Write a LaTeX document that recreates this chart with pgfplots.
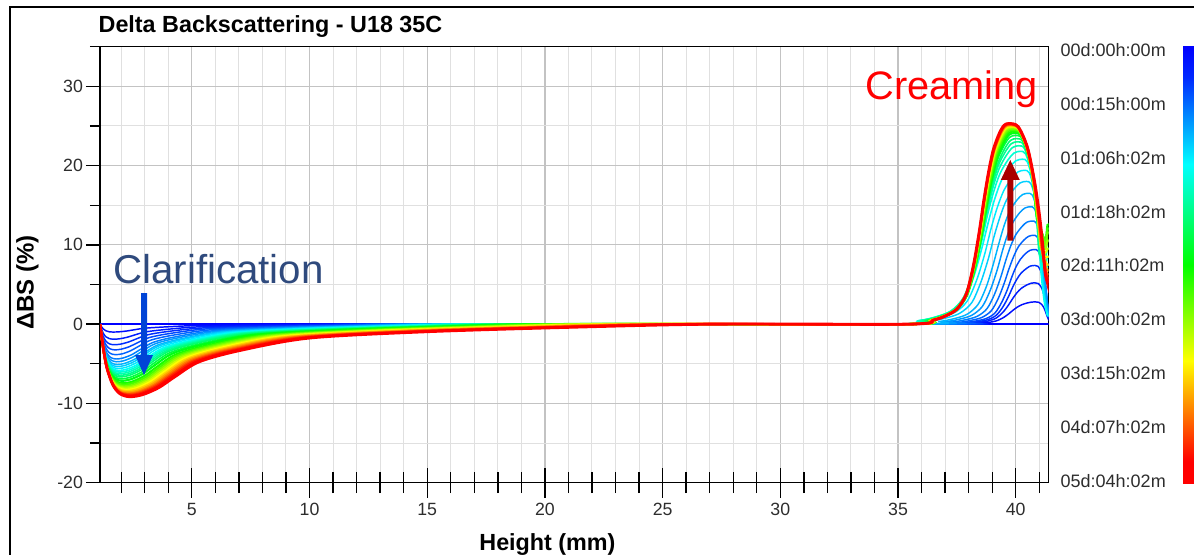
\documentclass[border=0pt]{standalone}
\usepackage{fontspec}
\setmainfont{Liberation Sans}
\usepackage{pgfplots}
\pgfplotsset{compat=1.18}
\definecolor{c0}{RGB}{0,0,255}
\definecolor{c1}{RGB}{0,14,255}
\definecolor{c2}{RGB}{0,29,255}
\definecolor{c3}{RGB}{0,45,255}
\definecolor{c4}{RGB}{0,72,255}
\definecolor{c5}{RGB}{0,99,255}
\definecolor{c6}{RGB}{0,126,255}
\definecolor{c7}{RGB}{0,153,255}
\definecolor{c8}{RGB}{0,180,255}
\definecolor{c9}{RGB}{0,207,255}
\definecolor{c10}{RGB}{0,234,255}
\definecolor{c11}{RGB}{0,255,244}
\definecolor{c12}{RGB}{0,255,211}
\definecolor{c13}{RGB}{0,255,177}
\definecolor{c14}{RGB}{0,255,144}
\definecolor{c15}{RGB}{0,255,111}
\definecolor{c16}{RGB}{0,255,67}
\definecolor{c17}{RGB}{0,255,22}
\definecolor{c18}{RGB}{23,255,0}
\definecolor{c19}{RGB}{70,255,0}
\definecolor{c20}{RGB}{116,255,0}
\definecolor{c21}{RGB}{162,255,0}
\definecolor{c22}{RGB}{209,255,0}
\definecolor{c23}{RGB}{255,255,0}
\definecolor{c24}{RGB}{255,211,0}
\definecolor{c25}{RGB}{255,166,0}
\definecolor{c26}{RGB}{255,122,0}
\definecolor{c27}{RGB}{255,78,0}
\definecolor{c28}{RGB}{255,33,0}
\definecolor{c29}{RGB}{255,0,0}
\definecolor{c30}{RGB}{255,0,0}
\definecolor{navytext}{RGB}{47,74,125}
\definecolor{arrowblue}{RGB}{0,68,214}
\definecolor{arrowred}{RGB}{170,0,0}
\definecolor{gridmaj}{RGB}{195,195,195}
\definecolor{gridmin}{RGB}{224,224,224}
\definecolor{tickgray}{RGB}{45,45,45}
\definecolor{cbb}{RGB}{0,0,255}
\definecolor{cbb2}{RGB}{0,40,255}
\definecolor{cbc}{RGB}{0,255,255}
\definecolor{cbg}{RGB}{0,255,0}
\definecolor{cby}{RGB}{255,255,0}
\definecolor{cbr}{RGB}{255,0,0}
\pgfdeclareverticalshading{jetbar}{100bp}{color(0bp)=(cbr); color(25bp)=(cbr); color(27.5bp)=(cbr); color(39bp)=(cby); color(50bp)=(cbg); color(61.5bp)=(cbc); color(71.5bp)=(cbb2); color(75bp)=(cbb); color(100bp)=(cbb)}
\begin{document}
\begin{tikzpicture}
\path[use as bounding box] (0,0) rectangle (895.5pt,415.5pt);
\begin{axis}[
  at={(75pt,53.5pt)}, anchor=south west,
  scale only axis, width=711.5pt, height=327pt,
  xmin=1.1, xmax=41.4, ymin=-20, ymax=35,
  xtick={5,10,...,40},
  minor xtick={2,3,4,6,7,8,9,11,12,13,14,16,17,18,19,21,22,23,24,26,27,28,29,31,32,33,34,36,37,38,39,41},
  ytick={-20,-10,...,30},
  minor ytick={-15,-5,5,15,25,35},
  grid=both,
  major grid style={draw=gridmaj, line width=0.9pt},
  minor grid style={draw=gridmin, line width=0.75pt},
  tick pos=left,
  xtick align=center, ytick align=outside,
  xtick style={black, line width=1pt, /pgfplots/major tick length=22.5pt, /pgfplots/minor tick length=15.75pt},
  ytick style={black, line width=1pt, /pgfplots/major tick length=10.5pt, /pgfplots/minor tick length=7.5pt},
  axis line style={black, line width=1.1pt},
  tick label style={font=\fontsize{13.3}{16}\selectfont, text=tickgray},
  xticklabel style={yshift=-10pt},
  yticklabel style={xshift=-5pt},
  /pgf/number format/assume math mode=true,
  every axis plot/.append style={smooth, tension=0.5, no markers},
]
\addplot[c0, line width=1pt] coordinates {(1.1,0) (41.4,0)};
\addplot[c1, line width=1.1pt] coordinates {(1.1,0) (1.17,-0.35) (1.24,-0.61) (1.35,-0.84) (1.48,-0.96) (1.66,-1.0) (1.91,-0.97) (2.23,-0.87) (2.54,-0.72) (2.99,-0.52) (3.76,-0.37) (5.11,-0.19) (7.36,-0.1) (10.06,-0.04) (12.8,0) (36.99,0) (37.9,0.06) (38.37,0.11) (38.83,0.21) (39.19,0.42) (39.47,0.81) (39.7,1.29) (39.88,1.74) (40.06,2.13) (40.25,2.44) (40.48,2.66) (40.65,2.77) (40.84,2.8) (40.97,2.76) (41.11,2.46) (41.21,1.99) (41.27,1.54) (41.32,1.09) (41.36,0.81) (41.39,0.59) (41.44,0.34) (41.52,0.14)};
\addplot[c2, line width=1.1pt] coordinates {(1.1,0) (1.17,-0.67) (1.24,-1.16) (1.35,-1.6) (1.49,-1.82) (1.68,-1.9) (1.93,-1.85) (2.25,-1.66) (2.57,-1.37) (3.03,-0.99) (3.81,-0.7) (5.19,-0.36) (7.49,-0.2) (10.25,-0.08) (13.06,0) (36.98,0) (37.89,0.1) (38.36,0.21) (38.82,0.39) (39.18,0.78) (39.46,1.51) (39.69,2.39) (39.87,3.22) (40.05,3.95) (40.24,4.52) (40.47,4.94) (40.64,5.15) (40.83,5.2) (40.96,5.12) (41.1,4.58) (41.2,3.69) (41.26,2.86) (41.31,2.03) (41.35,1.51) (41.38,1.09) (41.43,0.62) (41.51,0.26)};
\addplot[c3, line width=1.1pt] coordinates {(1.1,0) (1.17,-0.91) (1.24,-1.59) (1.36,-2.18) (1.51,-2.5) (1.7,-2.6) (1.96,-2.53) (2.3,-2.27) (2.64,-1.87) (3.12,-1.35) (3.93,-0.95) (5.37,-0.5) (7.77,-0.27) (10.65,-0.11) (13.58,0) (36.97,0) (37.88,0.15) (38.35,0.3) (38.81,0.56) (39.17,1.11) (39.45,2.15) (39.68,3.4) (39.86,4.59) (40.04,5.62) (40.23,6.44) (40.46,7.03) (40.63,7.33) (40.82,7.4) (40.95,7.29) (41.09,6.51) (41.19,5.25) (41.25,4.07) (41.3,2.89) (41.34,2.15) (41.37,1.55) (41.42,0.89) (41.5,0.37)};
\addplot[c4, line width=1.1pt] coordinates {(1.1,0) (1.18,-1.14) (1.25,-1.98) (1.38,-2.73) (1.53,-3.12) (1.73,-3.25) (2.0,-3.16) (2.35,-2.84) (2.7,-2.34) (3.2,-1.69) (4.05,-1.19) (5.55,-0.62) (8.05,-0.34) (11.05,-0.14) (14.1,0) (36.88,0) (37.81,0.19) (38.28,0.38) (38.75,0.71) (39.12,1.41) (39.4,2.73) (39.64,4.32) (39.82,5.83) (40.0,7.14) (40.2,8.18) (40.43,8.93) (40.61,9.31) (40.8,9.4) (40.94,9.26) (41.08,8.27) (41.19,6.67) (41.25,5.17) (41.31,3.67) (41.34,2.73) (41.38,1.97) (41.43,1.13) (41.51,0.47)};
\addplot[c5, line width=1.1pt] coordinates {(1.1,0) (1.18,-1.35) (1.26,-2.35) (1.39,-3.23) (1.54,-3.7) (1.75,-3.85) (2.04,-3.75) (2.4,-3.36) (2.76,-2.77) (3.28,-2.0) (4.17,-1.41) (5.73,-0.74) (8.33,-0.4) (11.45,-0.17) (14.62,0) (36.56,0) (37.56,0.22) (38.06,0.45) (38.56,0.84) (38.96,1.68) (39.26,3.25) (39.51,5.15) (39.71,6.94) (39.91,8.51) (40.11,9.74) (40.36,10.64) (40.56,11.09) (40.76,11.2) (40.9,11.03) (41.05,9.86) (41.16,7.95) (41.22,6.16) (41.28,4.37) (41.32,3.25) (41.35,2.35) (41.41,1.34) (41.49,0.56)};
\addplot[c6, line width=1.1pt] coordinates {(1.1,0) (1.18,-1.54) (1.26,-2.68) (1.4,-3.7) (1.56,-4.22) (1.78,-4.4) (2.07,-4.28) (2.45,-3.85) (2.83,-3.17) (3.37,-2.29) (4.29,-1.61) (5.91,-0.84) (8.61,-0.46) (11.85,-0.19) (15.14,0) (36.22,0) (37.28,0.26) (37.82,0.52) (38.36,0.98) (38.78,1.95) (39.1,3.77) (39.37,5.98) (39.58,8.06) (39.79,9.88) (40.01,11.31) (40.28,12.35) (40.48,12.87) (40.7,13.0) (40.86,12.81) (41.02,11.44) (41.13,9.23) (41.21,7.15) (41.27,5.07) (41.31,3.77) (41.35,2.73) (41.41,1.56) (41.5,0.65)};
\addplot[c7, line width=1.1pt] coordinates {(1.1,0) (1.18,-1.66) (1.27,-2.9) (1.41,-3.99) (1.58,-4.56) (1.8,-4.75) (2.11,-4.62) (2.5,-4.15) (2.89,-3.42) (3.45,-2.47) (4.4,-1.74) (6.08,-0.91) (8.88,-0.49) (12.24,-0.21) (15.66,0) (35.86,0) (36.99,0.3) (37.56,0.59) (38.13,1.11) (38.58,2.22) (38.92,4.29) (39.21,6.81) (39.43,9.18) (39.65,11.25) (39.89,12.88) (40.17,14.06) (40.39,14.65) (40.62,14.8) (40.79,14.58) (40.96,13.02) (41.08,10.51) (41.16,8.14) (41.23,5.77) (41.27,4.29) (41.31,3.11) (41.37,1.78) (41.47,0.74)};
\addplot[c8, line width=1.1pt] coordinates {(1.1,0) (1.19,-1.79) (1.27,-3.11) (1.42,-4.28) (1.59,-4.9) (1.83,-5.1) (2.14,-4.96) (2.55,-4.46) (2.96,-3.67) (3.54,-2.65) (4.52,-1.87) (6.26,-0.97) (9.16,-0.53) (12.64,-0.22) (16.18,0) (35.56,0) (36.74,0.33) (37.34,0.66) (37.93,1.24) (38.4,2.48) (38.76,4.79) (39.05,7.59) (39.29,10.23) (39.52,12.54) (39.76,14.36) (40.06,15.68) (40.29,16.34) (40.53,16.5) (40.71,16.25) (40.89,14.52) (41.02,11.72) (41.1,9.08) (41.17,6.44) (41.21,4.79) (41.26,3.47) (41.33,1.98) (41.43,0.83)};
\addplot[c9, line width=1.1pt] coordinates {(1.1,0) (1.19,-1.87) (1.28,-3.26) (1.42,-4.49) (1.6,-5.14) (1.84,-5.35) (2.16,-5.21) (2.58,-4.68) (2.99,-3.85) (3.58,-2.78) (4.58,-1.96) (6.35,-1.02) (9.3,-0.56) (12.84,-0.24) (16.44,0) (35.03,0) (36.31,0.36) (36.96,0.72) (37.61,1.35) (38.13,2.7) (38.51,5.22) (38.84,8.28) (39.09,11.16) (39.35,13.68) (39.61,15.66) (39.94,17.1) (40.19,17.82) (40.45,18.0) (40.64,17.73) (40.83,15.84) (40.97,12.78) (41.06,9.9) (41.13,7.02) (41.17,5.22) (41.22,3.78) (41.29,2.16) (41.4,0.9)};
\addplot[c10, line width=1.1pt] coordinates {(1.1,0) (1.19,-1.96) (1.28,-3.42) (1.44,-4.7) (1.62,-5.38) (1.86,-5.6) (2.2,-5.45) (2.63,-4.89) (3.05,-4.03) (3.66,-2.91) (4.7,-2.05) (6.53,-1.07) (9.58,-0.58) (13.24,-0.25) (16.96,0) (34.7,0) (36.05,0.39) (36.73,0.78) (37.41,1.46) (37.94,2.91) (38.35,5.63) (38.69,8.92) (38.95,12.03) (39.22,14.74) (39.5,16.88) (39.84,18.43) (40.1,19.21) (40.37,19.4) (40.57,19.11) (40.77,17.07) (40.91,13.77) (41.01,10.67) (41.08,7.57) (41.13,5.63) (41.18,4.07) (41.26,2.33) (41.37,0.97)};
\addplot[c11, line width=1.2pt] coordinates {(1.1,0) (1.19,-2.05) (1.29,-3.57) (1.45,-4.91) (1.64,-5.62) (1.89,-5.85) (2.23,-5.69) (2.68,-5.11) (3.12,-4.21) (3.75,-3.04) (4.82,-2.14) (6.71,-1.12) (9.86,-0.61) (13.64,-0.26) (17.48,0) (34.51,0) (35.87,0.42) (36.57,0.83) (37.26,1.56) (37.81,3.12) (38.22,6.03) (38.56,9.57) (38.84,12.9) (39.11,15.81) (39.39,18.1) (39.74,19.76) (40.0,20.59) (40.28,20.8) (40.49,20.49) (40.7,18.3) (40.86,14.77) (40.96,11.44) (41.04,8.11) (41.09,6.03) (41.15,4.37) (41.23,2.5) (41.35,1.04)};
\addplot[c12, line width=1.2pt] coordinates {(1.1,0) (1.2,-2.12) (1.29,-3.69) (1.45,-5.08) (1.65,-5.81) (1.91,-6.05) (2.26,-5.89) (2.71,-5.29) (3.16,-4.36) (3.81,-3.15) (4.91,-2.21) (6.84,-1.16) (10.07,-0.63) (13.94,-0.27) (17.87,0) (34.53,0) (35.88,0.44) (36.56,0.87) (37.24,1.64) (37.77,3.27) (38.18,6.32) (38.52,10.03) (38.78,13.52) (39.05,16.57) (39.33,18.97) (39.67,20.71) (39.93,21.58) (40.2,21.8) (40.42,21.47) (40.66,19.18) (40.83,15.48) (40.93,11.99) (41.02,8.5) (41.25,6.5) (41.35,7.5) (41.45,7.5)};
\addplot[c13, line width=1.2pt] coordinates {(1.1,0) (1.2,-2.19) (1.3,-3.81) (1.46,-5.25) (1.66,-6.0) (1.93,-6.25) (2.29,-6.08) (2.75,-5.46) (3.21,-4.5) (3.87,-3.25) (4.99,-2.29) (6.97,-1.19) (10.27,-0.65) (14.23,-0.28) (18.26,0) (34.67,0) (35.97,0.45) (36.62,0.9) (37.28,1.69) (37.79,3.38) (38.18,6.53) (38.51,10.35) (38.77,13.95) (39.02,17.1) (39.29,19.58) (39.62,21.38) (39.87,22.28) (40.13,22.5) (40.37,22.16) (40.62,19.8) (40.8,15.98) (40.92,12.38) (41.01,8.78) (41.25,7.5) (41.35,8.5) (41.45,8.5)};
\addplot[c14, line width=1.2pt] coordinates {(1.1,0) (1.2,-2.26) (1.3,-3.93) (1.47,-5.42) (1.67,-6.19) (1.94,-6.45) (2.32,-6.28) (2.79,-5.64) (3.26,-4.64) (3.94,-3.35) (5.08,-2.36) (7.11,-1.23) (10.48,-0.67) (14.53,-0.28) (18.65,0) (34.82,0) (36.07,0.46) (36.7,0.92) (37.33,1.73) (37.82,3.45) (38.2,6.67) (38.51,10.58) (38.76,14.26) (39.01,17.48) (39.26,20.01) (39.58,21.85) (39.82,22.77) (40.07,23.0) (40.33,22.66) (40.59,20.24) (40.79,16.33) (40.91,12.65) (41.01,8.97) (41.25,8.5) (41.35,9.5) (41.45,9.5)};
\addplot[c15, line width=1.2pt] coordinates {(1.1,0) (1.2,-2.33) (1.31,-4.06) (1.48,-5.59) (1.69,-6.38) (1.96,-6.65) (2.34,-6.47) (2.83,-5.81) (3.31,-4.79) (4.0,-3.46) (5.17,-2.43) (7.24,-1.27) (10.69,-0.69) (14.83,-0.29) (19.04,0) (34.96,0) (36.16,0.47) (36.77,0.94) (37.38,1.76) (37.86,3.51) (38.22,6.79) (38.52,10.76) (38.76,14.51) (39.0,17.78) (39.25,20.36) (39.55,22.23) (39.78,23.17) (40.03,23.4) (40.3,23.05) (40.58,20.59) (40.78,16.61) (40.92,12.87) (41.25,9.5) (41.35,10.5) (41.45,10.5)};
\addplot[c16, line width=1.2pt] coordinates {(1.1,0) (1.21,-2.42) (1.31,-4.21) (1.49,-5.8) (1.7,-6.62) (1.99,-6.9) (2.38,-6.71) (2.88,-6.03) (3.37,-4.97) (4.08,-3.59) (5.29,-2.53) (7.42,-1.32) (10.97,-0.72) (15.23,-0.3) (19.56,0) (35.08,0) (36.24,0.48) (36.83,0.95) (37.42,1.79) (37.88,3.57) (38.23,6.9) (38.52,10.95) (38.76,14.76) (38.99,18.09) (39.22,20.71) (39.52,22.61) (39.74,23.56) (39.98,23.8) (40.27,23.44) (40.56,20.94) (40.78,16.9) (40.92,13.09) (41.25,10) (41.35,11.5) (41.45,11.5)};
\addplot[c17, line width=1.6pt] coordinates {(1.1,0) (1.21,-2.5) (1.32,-4.36) (1.5,-6.01) (1.72,-6.86) (2.01,-7.15) (2.41,-6.96) (2.93,-6.25) (3.44,-5.15) (4.17,-3.72) (5.41,-2.62) (7.6,-1.37) (11.25,-0.74) (15.63,-0.31) (20.08,0) (35.25,0) (36.36,0.48) (36.93,0.96) (37.49,1.81) (37.93,3.62) (38.27,6.99) (38.55,11.09) (38.77,14.94) (38.99,18.32) (39.22,20.97) (39.5,22.9) (39.71,23.86) (39.94,24.1) (40.24,23.74) (40.55,21.21) (40.78,17.11) (40.92,13.26) (41.25,10.5) (41.35,12) (41.45,12)};
\addplot[c18, line width=1.6pt] coordinates {(1.1,0) (1.21,-2.61) (1.33,-4.54) (1.52,-6.26) (1.75,-7.15) (2.05,-7.45) (2.47,-7.25) (3.0,-6.51) (3.53,-5.36) (4.29,-3.87) (5.58,-2.73) (7.86,-1.42) (11.66,-0.77) (16.22,-0.33) (20.86,0) (35.28,0) (36.38,0.49) (36.93,0.97) (37.48,1.82) (37.92,3.65) (38.25,7.05) (38.53,11.18) (38.75,15.07) (38.96,18.47) (39.19,21.14) (39.46,23.09) (39.68,24.06) (39.9,24.3) (40.21,23.94) (40.54,21.38) (40.77,17.25) (40.93,13.37) (41.25,10.5) (41.35,12.5) (41.45,12.5)};
\addplot[c19, line width=1.6pt] coordinates {(1.1,0) (1.22,-2.68) (1.33,-4.67) (1.53,-6.43) (1.76,-7.34) (2.08,-7.65) (2.5,-7.44) (3.05,-6.69) (3.6,-5.51) (4.38,-3.98) (5.7,-2.8) (8.04,-1.46) (11.94,-0.8) (16.62,-0.34) (21.38,0) (35.32,0) (36.4,0.49) (36.95,0.98) (37.49,1.84) (37.92,3.68) (38.25,7.11) (38.52,11.27) (38.73,15.19) (38.95,18.62) (39.17,21.32) (39.44,23.28) (39.65,24.26) (39.87,24.5) (40.19,24.13) (40.53,21.56) (40.77,17.4) (40.93,13.48) (41.25,10.5) (41.35,12) (41.45,12)};
\addplot[c20, line width=1.6pt] coordinates {(1.1,0) (1.22,-2.75) (1.34,-4.79) (1.54,-6.59) (1.78,-7.54) (2.1,-7.85) (2.54,-7.64) (3.1,-6.86) (3.66,-5.65) (4.46,-4.08) (5.82,-2.87) (8.22,-1.5) (12.22,-0.82) (17.02,-0.35) (21.9,0) (35.33,0) (36.4,0.49) (36.94,0.99) (37.48,1.85) (37.91,3.7) (38.23,7.15) (38.5,11.34) (38.71,15.28) (38.92,18.73) (39.14,21.45) (39.41,23.42) (39.62,24.4) (39.84,24.65) (40.17,24.28) (40.52,21.69) (40.77,17.5) (40.93,13.56) (41.25,10) (41.35,11.5) (41.45,11.5)};
\addplot[c21, line width=1.6pt] coordinates {(1.1,0) (1.22,-2.8) (1.35,-4.88) (1.55,-6.72) (1.8,-7.68) (2.13,-8.0) (2.58,-7.78) (3.15,-6.99) (3.72,-5.76) (4.54,-4.16) (5.94,-2.93) (8.4,-1.53) (12.5,-0.83) (17.42,-0.35) (22.42,0) (35.34,0) (36.4,0.5) (36.94,0.99) (37.48,1.86) (37.9,3.72) (38.22,7.19) (38.49,11.41) (38.7,15.38) (38.91,18.85) (39.13,21.58) (39.4,23.56) (39.6,24.55) (39.82,24.8) (40.16,24.43) (40.51,21.82) (40.77,17.61) (40.93,13.64) (41.07,9.67) (41.25,9.5) (41.35,10.5) (41.45,10.5)};
\addplot[c22, line width=1.6pt] coordinates {(1.1,0) (1.23,-2.85) (1.35,-4.97) (1.56,-6.85) (1.81,-7.82) (2.15,-8.15) (2.61,-7.93) (3.2,-7.12) (3.79,-5.87) (4.63,-4.24) (6.06,-2.98) (8.58,-1.56) (12.78,-0.85) (17.82,-0.36) (22.94,0) (35.36,0) (36.41,0.5) (36.94,1.0) (37.48,1.87) (37.9,3.74) (38.21,7.22) (38.48,11.45) (38.69,15.44) (38.9,18.92) (39.11,21.66) (39.38,23.66) (39.58,24.65) (39.8,24.9) (40.15,24.53) (40.5,21.91) (40.77,17.68) (40.93,13.7) (41.07,9.71) (41.25,9) (41.35,9.5) (41.45,9.5)};
\addplot[c23, line width=1.6pt] coordinates {(1.1,0) (1.23,-2.91) (1.36,-5.06) (1.57,-6.97) (1.83,-7.97) (2.18,-8.3) (2.65,-8.08) (3.25,-7.25) (3.85,-5.98) (4.71,-4.32) (6.17,-3.04) (8.75,-1.59) (13.05,-0.86) (18.21,-0.37) (23.46,0) (35.37,0) (36.42,0.5) (36.95,1.0) (37.47,1.88) (37.89,3.75) (38.21,7.25) (38.47,11.5) (38.68,15.5) (38.89,19.0) (39.1,21.75) (39.36,23.75) (39.57,24.75) (39.78,25.0) (40.13,24.63) (40.5,22.0) (40.76,17.75) (40.94,13.75) (41.08,9.75) (41.25,8.5) (41.35,8.5) (41.45,8.5)};
\addplot[c24, line width=1.6pt] coordinates {(1.1,0) (1.23,-2.96) (1.36,-5.15) (1.58,-7.1) (1.85,-8.11) (2.2,-8.45) (2.68,-8.22) (3.3,-7.39) (3.92,-6.08) (4.8,-4.39) (6.29,-3.09) (8.93,-1.61) (13.33,-0.88) (18.61,-0.37) (23.98,0) (35.39,0) (36.42,0.5) (36.95,1.0) (37.47,1.88) (37.89,3.76) (38.2,7.26) (38.46,11.52) (38.67,15.53) (38.87,19.04) (39.09,21.79) (39.35,23.8) (39.55,24.8) (39.76,25.05) (40.12,24.67) (40.49,22.04) (40.76,17.79) (40.94,13.78) (41.08,9.77) (41.25,8) (41.35,7.5) (41.45,7.5)};
\addplot[c25, line width=1.6pt] coordinates {(1.1,0) (1.24,-3.01) (1.37,-5.25) (1.6,-7.22) (1.87,-8.26) (2.23,-8.6) (2.72,-8.37) (3.35,-7.52) (3.98,-6.19) (4.88,-4.47) (6.41,-3.15) (9.11,-1.64) (13.61,-0.89) (19.01,-0.38) (24.5,0) (35.41,0) (36.44,0.5) (36.96,1.0) (37.48,1.88) (37.89,3.77) (38.2,7.28) (38.46,11.55) (38.67,15.56) (38.87,19.08) (39.08,21.84) (39.34,23.85) (39.54,24.85) (39.75,25.1) (40.11,24.72) (40.49,22.09) (40.76,17.82) (40.94,13.81) (41.08,9.79) (41.25,7.5) (41.35,6.8) (41.45,6.8)};
\addplot[c26, line width=1.6pt] coordinates {(1.1,0) (1.24,-3.06) (1.38,-5.34) (1.61,-7.35) (1.88,-8.4) (2.25,-8.75) (2.76,-8.51) (3.4,-7.65) (4.04,-6.3) (4.96,-4.55) (6.53,-3.2) (9.29,-1.67) (13.89,-0.91) (19.41,-0.39) (25.02,0) (35.44,0) (36.46,0.5) (36.97,1.01) (37.49,1.89) (37.9,3.77) (38.2,7.29) (38.46,11.57) (38.66,15.59) (38.87,19.11) (39.08,21.88) (39.33,23.89) (39.53,24.9) (39.74,25.15) (40.11,24.77) (40.49,22.13) (40.77,17.86) (40.95,13.83) (41.1,9.81) (41.25,7.2) (41.35,6.3) (41.45,6.3)};
\addplot[c27, line width=1.6pt] coordinates {(1.1,0) (1.24,-3.1) (1.38,-5.4) (1.62,-7.43) (1.9,-8.5) (2.28,-8.85) (2.79,-8.61) (3.45,-7.73) (4.11,-6.37) (5.05,-4.6) (6.65,-3.24) (9.47,-1.69) (14.17,-0.92) (19.81,-0.39) (25.54,0) (35.46,0) (36.47,0.5) (36.99,1.01) (37.5,1.89) (37.9,3.78) (38.21,7.31) (38.46,11.59) (38.66,15.62) (38.86,19.15) (39.07,21.92) (39.33,23.94) (39.52,24.95) (39.73,25.2) (40.11,24.82) (40.49,22.18) (40.78,17.89) (40.96,13.86) (41.11,9.83) (41.25,7) (41.35,5.9) (41.45,5.9)};
\addplot[c28, line width=1.6pt] coordinates {(1.1,0) (1.24,-3.13) (1.39,-5.46) (1.63,-7.52) (1.92,-8.59) (2.3,-8.95) (2.83,-8.71) (3.5,-7.82) (4.17,-6.44) (5.13,-4.65) (6.76,-3.28) (9.64,-1.71) (14.44,-0.93) (20.2,-0.39) (26.06,0) (35.49,0) (36.49,0.51) (37.0,1.01) (37.51,1.89) (37.91,3.79) (38.21,7.32) (38.46,11.62) (38.66,15.66) (38.86,19.19) (39.07,21.97) (39.32,23.99) (39.51,25.0) (39.72,25.25) (40.1,24.87) (40.5,22.22) (40.79,17.93) (40.97,13.89) (41.12,9.85) (41.25,6.8) (41.35,5.6) (41.45,5.6)};
\addplot[c29, line width=1.6pt] coordinates {(1.1,0) (1.25,-3.17) (1.39,-5.52) (1.64,-7.6) (1.93,-8.69) (2.33,-9.05) (2.86,-8.81) (3.55,-7.91) (4.24,-6.52) (5.22,-4.71) (6.88,-3.31) (9.82,-1.73) (14.72,-0.94) (20.6,-0.4) (26.58,0) (35.51,0) (36.51,0.51) (37.01,1.01) (37.51,1.9) (37.91,3.79) (38.21,7.33) (38.46,11.63) (38.66,15.67) (38.86,19.21) (39.06,21.99) (39.31,24.02) (39.51,25.03) (39.71,25.28) (40.1,24.9) (40.5,22.25) (40.8,17.95) (40.98,13.9) (41.14,9.86) (41.25,6.6) (41.35,5.4) (41.45,5.4)};
\addplot[c30, line width=2.2pt] coordinates {(1.1,0) (1.25,-3.2) (1.4,-5.58) (1.65,-7.69) (1.95,-8.78) (2.35,-9.15) (2.9,-8.9) (3.6,-8.0) (4.3,-6.59) (5.3,-4.76) (7.0,-3.35) (10.0,-1.75) (15.0,-0.95) (21.0,-0.4) (27.1,0) (35.5,0) (36.5,0.51) (37.0,1.01) (37.5,1.9) (37.9,3.8) (38.2,7.34) (38.45,11.64) (38.65,15.69) (38.85,19.23) (39.05,22.01) (39.3,24.04) (39.5,25.05) (39.7,25.3) (40.1,24.92) (40.5,22.26) (40.8,17.96) (41.0,13.92) (41.15,9.87) (41.25,6.5) (41.35,5.2) (41.45,4.0)};
\end{axis}
% outer frame
\draw[black, line width=1.5pt] (7.5pt,-10pt) -- (7.5pt,409.9pt) -- (905pt,409.9pt);
% title and axis labels
\node[anchor=base west, inner sep=0pt, font=\bfseries\fontsize{17.5}{20}\selectfont] at (73.8pt,391.3pt) {Delta Backscattering - U18 35C};
\node[anchor=base, inner sep=0pt, font=\bfseries\fontsize{17.5}{20}\selectfont] at (410.6pt,3pt) {Height (mm)};
\node[rotate=90, inner sep=0pt, font=\bfseries\fontsize{18}{20}\selectfont] at (20.6pt,203.6pt) {ΔBS (\%)};
% annotations
\node[anchor=base west, inner sep=0pt, text=navytext, font=\fontsize{30.2}{34}\selectfont] at (84.8pt,203pt) {Clarification};
\node[anchor=base west, inner sep=0pt, text=red, font=\fontsize{29.8}{34}\selectfont] at (648.8pt,340.5pt) {Creaming};
\fill[arrowblue] (105.75pt,195.75pt) -- (110.25pt,195.75pt) -- (110.25pt,149.25pt) -- (114.75pt,149.25pt) -- (108pt,134.25pt) -- (101.25pt,149.25pt) -- (105.75pt,149.25pt) -- cycle;
\fill[arrowred] (755.45pt,235pt) -- (759.95pt,235pt) -- (759.95pt,280.5pt) -- (764.8pt,280.5pt) -- (757.7pt,295.5pt) -- (750.6pt,280.5pt) -- (755.45pt,280.5pt) -- cycle;
% colour bar
\shade[shading=jetbar] (887.25pt,53.25pt) rectangle (905pt,380.55pt);
\begin{scope}[every node/.style={anchor=west, inner sep=0pt, text=tickgray, font=\fontsize{13.5}{16}\selectfont}]
\node at (795.3pt,377.85pt) {00d:00h:00m};
\node at (795.3pt,337.5pt) {00d:15h:00m};
\node at (795.3pt,297.15pt) {01d:06h:02m};
\node at (795.3pt,256.8pt) {01d:18h:02m};
\node at (795.3pt,216.45pt) {02d:11h:02m};
\node at (795.3pt,176.1pt) {03d:00h:02m};
\node at (795.3pt,135.75pt) {03d:15h:02m};
\node at (795.3pt,95.4pt) {04d:07h:02m};
\node at (795.3pt,55.05pt) {05d:04h:02m};
\end{scope}
\end{tikzpicture}
\end{document}
